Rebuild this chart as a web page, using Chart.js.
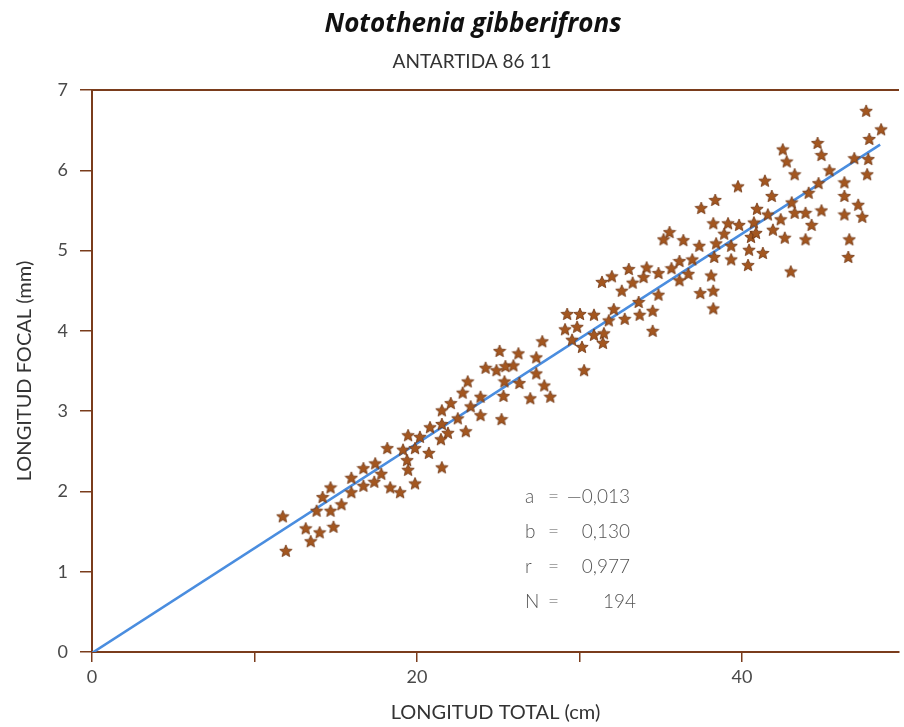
<!DOCTYPE html>
<html lang="es">
<head>
    <meta charset="UTF-8">
    <title>Notothenia gibberifrons</title>
    <style>
        body {
            margin: 0;
            padding: 0;
            background: #fff;
        }
        #wrap {
            width: 904px;
            height: 727px;
        }
    </style>
</head>
<body>
    <div id="wrap">
        <canvas id="chart" width="904" height="727"></canvas>
    </div>

    <script src="https://cdn.jsdelivr.net/npm/chart.js"></script>
    <script>
        const chartTitle = "Notothenia gibberifrons";
        const chartSubtitle = "ANTARTIDA 86 11";
        const xTitle = "LONGITUD TOTAL (cm)";
        const yTitle = "LONGITUD FOCAL (mm)";

        // total length (cm) of each fish
        const lengthCm = [
            47.64, 48.56, 47.83, 44.65, 42.51, 44.89, 42.75, 46.91, 47.77, 45.38,
            43.24, 47.70, 41.41, 46.30, 39.75, 44.71, 41.83, 44.10, 46.30, 43.06,
            47.15, 40.92, 44.89, 41.59, 43.24, 43.91, 46.30, 47.40, 42.38, 44.28,
            39.82, 40.73, 41.90, 42.63, 43.91, 46.60, 40.55, 40.86, 40.43, 41.28,
            46.54, 40.37, 43.00,
            38.35, 37.49, 38.23, 39.14, 35.54, 35.17, 36.39, 38.90, 37.37, 38.41,
            39.33, 38.29, 36.15, 36.94, 39.33, 33.03, 34.13, 31.99, 31.38, 33.94,
            34.86, 35.66, 36.70, 33.27, 36.15, 38.10, 32.60, 34.86, 37.43, 38.23,
            38.23, 32.11, 33.64, 34.50, 33.70, 31.80, 32.78, 34.50, 31.50, 31.44,
            29.24, 30.03, 30.89, 29.11, 29.85, 30.89, 29.54, 30.15, 27.71, 25.08,
            26.24, 27.34, 24.22, 24.89, 25.44, 25.93, 27.34, 30.28, 23.12, 25.38,
            26.30, 27.83, 22.81, 22.08, 23.91, 25.32, 26.97, 28.20, 23.30, 21.53,
            23.91, 25.20, 22.51, 21.53, 23.00, 21.90, 21.47,
            20.80, 19.45, 20.18, 18.17, 19.14, 19.88, 20.73, 19.39, 17.43, 16.70,
            19.45, 21.53, 15.96, 17.80, 16.70, 17.37, 19.88, 14.68, 18.35, 18.96,
            15.96, 14.19, 15.35, 13.82, 14.68, 11.74, 13.15, 14.01, 14.86, 13.46,
            11.93
        ];

        // focal length (mm), same order as lengthCm
        const focalMm = [
            6.74, 6.51, 6.39, 6.34, 6.26, 6.19, 6.11, 6.15, 6.14, 6.00,
            5.95, 5.95, 5.87, 5.85, 5.80, 5.84, 5.68, 5.72, 5.68, 5.60,
            5.57, 5.52, 5.50, 5.45, 5.47, 5.47, 5.45, 5.42, 5.39, 5.32,
            5.32, 5.35, 5.26, 5.16, 5.14, 5.14, 5.17, 5.22, 5.01, 4.97,
            4.92, 4.82, 4.74,
            5.63, 5.53, 5.34, 5.34, 5.23, 5.14, 5.13, 5.21, 5.06, 5.09,
            5.06, 4.92, 4.87, 4.89, 4.89, 4.77, 4.79, 4.68, 4.61, 4.67,
            4.72, 4.78, 4.71, 4.60, 4.63, 4.69, 4.50, 4.45, 4.47, 4.50,
            4.28, 4.27, 4.36, 4.25, 4.20, 4.13, 4.15, 4.00, 3.97, 3.85,
            4.21, 4.21, 4.20, 4.02, 4.05, 3.95, 3.89, 3.80, 3.87, 3.75,
            3.72, 3.67, 3.54, 3.51, 3.56, 3.57, 3.47, 3.51, 3.37, 3.37,
            3.35, 3.32, 3.23, 3.10, 3.18, 3.19, 3.16, 3.18, 3.06, 3.01,
            2.95, 2.90, 2.91, 2.84, 2.75, 2.73, 2.65,
            2.80, 2.70, 2.68, 2.54, 2.52, 2.54, 2.48, 2.39, 2.35, 2.29,
            2.27, 2.30, 2.17, 2.22, 2.07, 2.12, 2.10, 2.05, 2.05, 1.99,
            1.99, 1.93, 1.84, 1.76, 1.76, 1.69, 1.54, 1.49, 1.56, 1.38,
            1.26
        ];

        // regression line end points
        const fitX = [0, 48.5];
        const fitY = [-0.013, 6.32];

        const statLabels = ["a", "b", "r", "N"];
        const statValues = ["\u20140,013", "0,130", "0,977", "194"];

        const xTickLabels = [0, 20, 40];

        const brown = "#7a3c1c";
        const textGrey = "#4a4a4a";

        function makeStar(size, fill, stroke) {
            const c = document.createElement("canvas");
            c.width = size;
            c.height = size;
            const g = c.getContext("2d");
            const cx = size / 2, cy = size / 2 + 0.5;
            const R = size / 2 - 0.5, r = R * 0.45;
            g.beginPath();
            for (let i = 0; i < 10; i++) {
                const a = -Math.PI / 2 + i * Math.PI / 5;
                const rad = i % 2 ? r : R;
                const px = cx + rad * Math.cos(a);
                const py = cy + rad * Math.sin(a);
                if (i === 0) g.moveTo(px, py); else g.lineTo(px, py);
            }
            g.closePath();
            g.fillStyle = fill;
            g.fill();
            g.lineWidth = 0.8;
            g.strokeStyle = stroke;
            g.stroke();
            return c;
        }

        const star = makeStar(14, "#a3561f", "#6e3410");

        const points = lengthCm.map((x, i) => ({ x: x, y: focalMm[i] }));
        const fitLine = fitX.map((x, i) => ({ x: x, y: fitY[i] }));

        // title, subtitle, stats block and top frame line
        const decorations = {
            id: "decorations",
            afterDraw(chart) {
                const ctx = chart.ctx;
                const area = chart.chartArea;
                ctx.save();

                ctx.strokeStyle = brown;
                ctx.lineWidth = 2;
                ctx.beginPath();
                ctx.moveTo(area.left, area.top);
                ctx.lineTo(area.right, area.top);
                ctx.stroke();

                ctx.textAlign = "center";
                ctx.textBaseline = "middle";
                ctx.fillStyle = "#111";
                ctx.font = "italic bold 26px 'Open Sans', sans-serif";
                ctx.fillText(chartTitle, 473, 25);
                ctx.fillStyle = "#333";
                ctx.font = "19px Lato, sans-serif";
                ctx.fillText(chartSubtitle, 472, 62);

                ctx.fillStyle = "#555";
                ctx.font = "300 19px Lato, sans-serif";
                const rowY = [497, 532, 567, 602];
                statLabels.forEach((lab, i) => {
                    ctx.textAlign = "left";
                    ctx.fillText(lab, 525, rowY[i]);
                    ctx.fillText("=", 548, rowY[i]);
                    ctx.textAlign = "right";
                    ctx.fillText(statValues[i], i === 3 ? 636 : 630, rowY[i]);
                });
                ctx.restore();
            }
        };

        new Chart(document.getElementById("chart"), {
            type: "scatter",
            data: {
                datasets: [
                    {
                        label: "datos",
                        data: points,
                        pointStyle: star,
                        order: 1
                    },
                    {
                        type: "line",
                        label: "ajuste",
                        data: fitLine,
                        borderColor: "#4a8ddf",
                        borderWidth: 2.5,
                        pointRadius: 0,
                        fill: false,
                        order: 2
                    }
                ]
            },
            options: {
                responsive: false,
                animation: false,
                layout: {
                    padding: { top: 90, left: 0, right: 0, bottom: 0 }
                },
                plugins: {
                    legend: { display: false },
                    tooltip: { enabled: false }
                },
                scales: {
                    x: {
                        type: "linear",
                        min: 0,
                        max: 49.66,
                        afterFit: (scale) => { scale.height = 75; },
                        border: { color: brown, width: 2 },
                        grid: {
                            drawOnChartArea: false,
                            drawTicks: true,
                            tickLength: 10,
                            color: brown,
                            lineWidth: 1.5
                        },
                        ticks: {
                            stepSize: 10,
                            includeBounds: false,
                            maxRotation: 0,
                            padding: 4,
                            color: textGrey,
                            font: { family: "Lato", size: 18 },
                            callback: (v) => xTickLabels.includes(v) ? String(v) : ""
                        },
                        title: {
                            display: true,
                            text: xTitle,
                            color: "#333",
                            font: { family: "Lato", size: 20 },
                            padding: { top: 0, bottom: 2 }
                        }
                    },
                    y: {
                        type: "linear",
                        min: 0,
                        max: 7,
                        afterFit: (scale) => { scale.width = 92; },
                        border: { color: brown, width: 2 },
                        grid: {
                            drawOnChartArea: false,
                            drawTicks: true,
                            tickLength: 12,
                            color: brown,
                            lineWidth: 1.5
                        },
                        ticks: {
                            stepSize: 1,
                            padding: 12,
                            color: textGrey,
                            font: { family: "Lato", size: 18 }
                        },
                        title: {
                            display: true,
                            text: yTitle,
                            color: "#333",
                            font: { family: "Lato", size: 20 },
                            padding: { top: 13, bottom: 0 }
                        }
                    }
                }
            },
            plugins: [decorations]
        });
    </script>
</body>
</html>
